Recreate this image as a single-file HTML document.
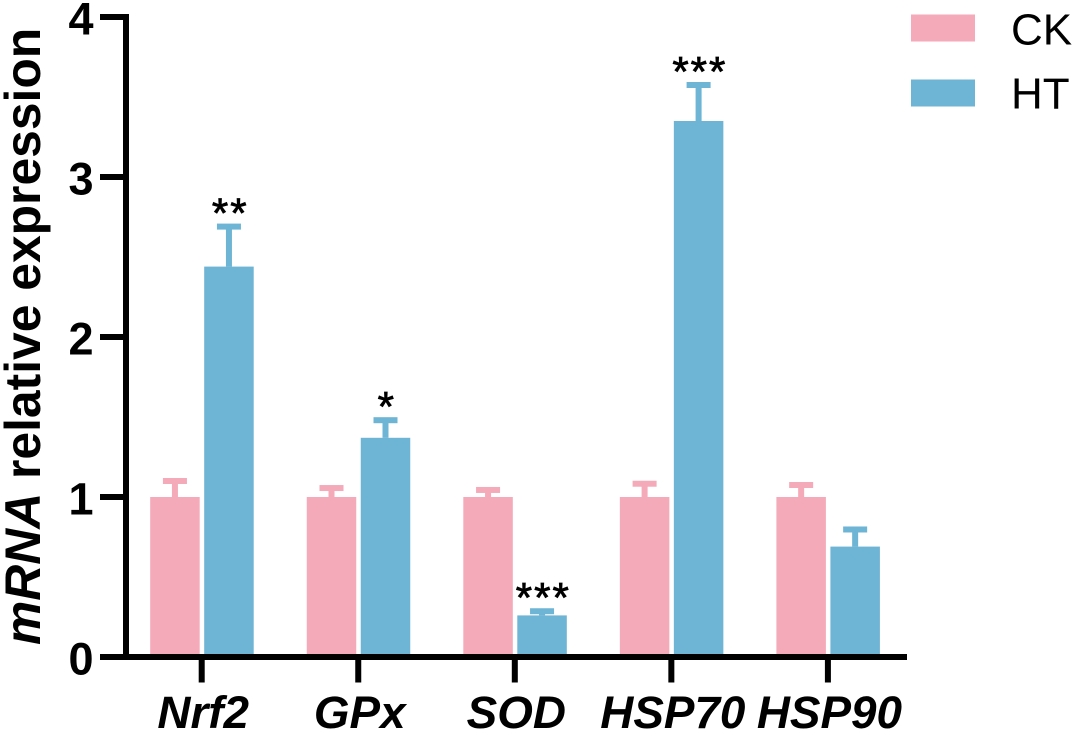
<!DOCTYPE html>
<html lang="en">
<head>
<meta charset="utf-8">
<title>mRNA relative expression</title>
<style>
html,body{margin:0;padding:0;background:#fff;}
svg{display:block;font-family:"Liberation Sans",Arial,sans-serif;}
</style>
</head>
<body>
<svg id="chart" xmlns="http://www.w3.org/2000/svg" width="1076" height="731" viewBox="0 0 1076 731">
  <rect x="0" y="0" width="1076" height="731" fill="#ffffff"/>
  <text transform="translate(40 645) rotate(-90)" font-size="49.8" font-weight="bold" fill="#000"><tspan font-style="italic">mRNA</tspan> relative expression</text>
  <g id="marks"></g>
  <g id="axes"></g>
  <g>
    <rect x="911" y="14.5" width="64" height="27" fill="#f4aab8"/>
    <text x="1011" y="44.5" font-size="44" fill="#000">CK</text>
    <rect x="911" y="79.5" width="64" height="27" fill="#6eb4d4"/>
    <text x="1011" y="108.5" font-size="44" fill="#000">HT</text>
  </g>
</svg>
<script>
const categories = ['Nrf2', 'GPx', 'SOD', 'HSP70', 'HSP90'];
const ckValues = [1, 1, 1, 1, 1];
const ckErrorTops = [1.10, 1.056, 1.044, 1.083, 1.075];
const htValues = [2.44, 1.37, 0.26, 3.35, 0.69];
const htErrorTops = [2.69, 1.48, 0.286, 3.575, 0.797];
const significance = ['**', '*', '***', '***', ''];
const yTicks = [0, 1, 2, 3, 4];

const NS = 'http://www.w3.org/2000/svg';
const CK_COLOR = '#f4aab8';
const HT_COLOR = '#6eb4d4';
const marks = document.getElementById('marks');
const axes = document.getElementById('axes');

function yScale(v) { return 657 - v * 160; }
function xScale(i) { return 201.7 + i * 156.55; }

function make(parent, tag, attrs, text) {
  const el = document.createElementNS(NS, tag);
  Object.keys(attrs).forEach(function (k) { el.setAttribute(k, attrs[k]); });
  if (text !== undefined) el.textContent = text;
  parent.appendChild(el);
  return el;
}

function drawBar(series, color, left, value, errTop, i) {
  const cx = left + 24.75;
  const slug = categories[i].toLowerCase();
  const top = yScale(value);
  const capY = yScale(errTop);
  const bar = make(marks, 'rect', { x: left, y: top, width: 49.5, height: 654 - top, fill: color });
  
  
  const stem = make(marks, 'rect', { x: cx - 3, y: capY, width: 6, height: Math.max(top - capY, 0), fill: color });
  
  
  const cap = make(marks, 'rect', { x: cx - 12, y: capY - 3, width: 24, height: 6, fill: color });
  
  
}

categories.forEach(function (name, i) {
  const c = xScale(i);
  const slug = name.toLowerCase();
  drawBar('ck', CK_COLOR, c - 51.5, ckValues[i], ckErrorTops[i], i);
  drawBar('ht', HT_COLOR, c + 2.5, htValues[i], htErrorTops[i], i);

  if (significance[i]) {
    const star = make(marks, 'text', {
      x: c + 28.5, y: yScale(htErrorTops[i]) + 1, 'font-size': 42, 'letter-spacing': 2,
      'text-anchor': 'middle', fill: '#000', stroke: '#000', 'stroke-width': 0.8
    }, significance[i]);
    
    
  }

  const tick = make(axes, 'rect', { x: c - 3, y: 657, width: 6, height: 25.5, fill: '#000' });
  
  

  const label = make(axes, 'text', {
    x: c + 1.5, y: 728, 'font-size': 45.8, 'font-weight': 'bold', 'font-style': 'italic',
    'text-anchor': 'middle', fill: '#000'
  }, name);
  
  
});

yTicks.forEach(function (t) {
  const y = yScale(t);
  const tick = make(axes, 'rect', { x: 100, y: y - 3, width: 26, height: 6, fill: '#000' });
  
  
  const label = make(axes, 'text', {
    x: 93.5, y: y + 17.5, 'font-size': 45, 'font-weight': 'bold', 'text-anchor': 'end', fill: '#000'
  }, String(t));
  
  
});

const yAxis = make(axes, 'rect', { x: 123, y: yScale(4) - 3, width: 6, height: yScale(0) - yScale(4) + 6, fill: '#000' });


const xAxis = make(axes, 'rect', { x: 100, y: 654, width: 807, height: 6, fill: '#000' });


</script>
</body>
</html>
